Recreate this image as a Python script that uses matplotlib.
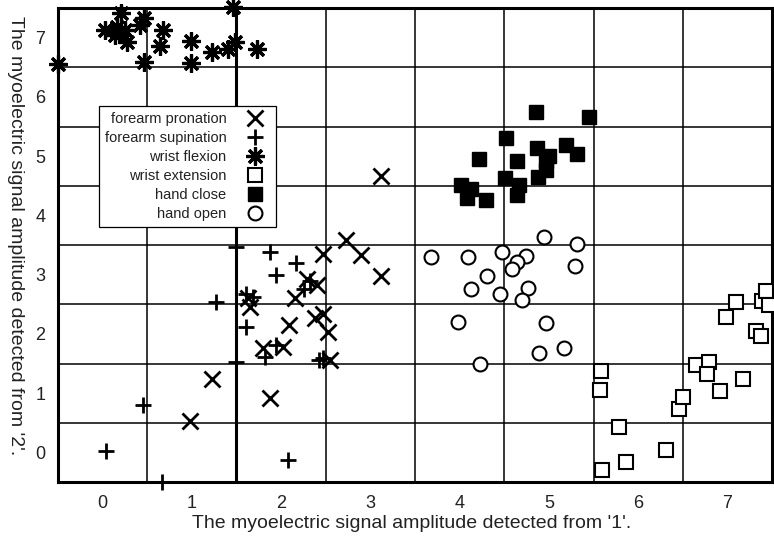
import numpy as np
import matplotlib
matplotlib.use('Agg')
import matplotlib.pyplot as plt

plt.rcParams['font.family'] = ['Liberation Sans', 'DejaVu Sans']

# values
pron_x = [0.98, 1.23, 1.87, 1.63, 1.65, 1.80, 2.02, 2.09, 2.16, 2.29, 2.40, 2.47, 2.38, 2.47, 2.53, 2.55, 2.73, 2.89, 3.12, 3.12]
pron_y = [0.53, 1.24, 0.91, 2.60, 2.46, 1.76, 1.78, 2.15, 2.60, 2.93, 2.82, 3.34, 2.27, 2.33, 2.04, 1.56, 3.59, 3.33, 2.97, 4.66]

sup_x = [0.04, 0.45, 0.66, 1.27, 1.49, 1.49, 1.61, 1.68, 1.61, 1.87, 1.94, 1.82, 1.94, 2.08, 2.17, 2.26, 2.32, 2.42, 2.47]
sup_y = [0.02, 0.80, -0.50, 2.54, 3.46, 1.52, 2.68, 2.62, 2.12, 3.39, 2.99, 1.61, 1.81, -0.13, 3.19, 2.75, 2.90, 1.56, 1.60]

flex_x = [-0.50, 0.21, 0.03, 0.16, 0.25, 0.14, 0.27, 0.19, 0.46, 0.42, 0.46, 0.68, 0.64, 0.99, 0.99, 1.23, 1.41, 1.48, 1.46, 1.73]
flex_y = [6.55, 7.42, 7.13, 7.18, 7.13, 7.04, 6.93, 7.10, 7.33, 7.21, 6.59, 7.13, 6.86, 6.95, 6.58, 6.76, 6.80, 6.93, 7.52, 6.80]

ext_x = [5.58, 5.57, 5.79, 5.59, 5.86, 6.31, 6.46, 6.50, 6.65, 6.79, 6.77, 6.92, 7.17, 6.98, 7.10, 7.32, 7.38, 7.39, 7.43, 7.47]
ext_y = [1.37, 1.06, 0.42, -0.30, -0.16, 0.04, 0.73, 0.94, 1.47, 1.53, 1.33, 1.04, 1.24, 2.28, 2.53, 2.05, 1.96, 2.55, 2.73, 2.49]

close_x = [4.86, 5.45, 4.52, 4.22, 4.64, 4.87, 4.97, 5.00, 5.19, 5.32, 4.97, 4.88, 4.51, 4.66, 4.01, 4.13, 4.08, 4.29, 4.64]
close_y = [5.75, 5.66, 5.31, 4.95, 4.91, 5.13, 4.91, 5.00, 5.18, 5.04, 4.77, 4.65, 4.63, 4.52, 4.51, 4.45, 4.29, 4.26, 4.34]

open_x = [4.94, 5.31, 3.68, 4.09, 4.48, 4.74, 4.64, 4.59, 5.29, 4.31, 4.13, 4.45, 4.77, 4.70, 3.98, 4.97, 4.89, 5.17, 4.23]
open_y = [3.64, 3.52, 3.30, 3.29, 3.38, 3.31, 3.21, 3.09, 3.15, 2.98, 2.75, 2.67, 2.77, 2.57, 2.20, 2.18, 1.68, 1.77, 1.49]

labels = ['forearm pronation', 'forearm supination', 'wrist flexion',
          'wrist extension', 'hand close', 'hand open']
xticks = [0, 1, 2, 3, 4, 5, 6, 7]
yticks = [0, 1, 2, 3, 4, 5, 6, 7]

fig = plt.figure(figsize=(7.74, 5.38), dpi=100)
ax = fig.add_axes([58 / 774, 56 / 538, 714 / 774, 474 / 538])

ax.set_xlim(-0.5, 7.5)
ax.set_ylim(-0.5, 7.5)
ax.set_xticks(xticks)
ax.set_yticks(yticks)
ax.set_xticks(np.arange(-0.5, 7.6, 1), minor=True)
ax.set_yticks(np.arange(-0.5, 7.6, 1), minor=True)
ax.grid(which='minor', color='black', lw=1.1)
ax.grid(which='major', visible=False)
ax.axvline(1.5, color='black', lw=2.2, zorder=1)
ax.set_axisbelow(True)
ax.tick_params(which='both', length=0)
ax.tick_params(axis='x', pad=9, labelsize=13, labelcolor='#222222')
ax.tick_params(axis='y', pad=9, labelsize=13, labelcolor='#222222')
for s in ax.spines.values():
    s.set_linewidth(2.2)

k = dict(ls='none', color='black', clip_on=False, zorder=3)
h1, = ax.plot(pron_x, pron_y, marker='x', ms=11, mew=2, label=labels[0], **k)
h2, = ax.plot(sup_x, sup_y, marker='+', ms=12, mew=2, label=labels[1], **k)
h3, = ax.plot(flex_x, flex_y, marker=(8, 2, 0), ms=13, mew=2.3, label=labels[2], **k)
h4, = ax.plot(ext_x, ext_y, marker='s', ms=10, mew=1.5, mfc='white', label=labels[3], **k)
h5, = ax.plot(close_x, close_y, marker='s', ms=10, mew=1, mfc='black', label=labels[4], **k)
h6, = ax.plot(open_x, open_y, marker='o', ms=10, mew=1.5, mfc='white', label=labels[5], **k)

leg = ax.legend(handles=[h1, h2, h3, h4, h5, h6], loc='upper left',
                bbox_to_anchor=(0.0574, 0.793), borderaxespad=0, markerfirst=False,
                fancybox=False, framealpha=1, edgecolor='black', fontsize=10.5,
                handlelength=2.1, handletextpad=0.9, labelspacing=0.34,
                borderpad=0.4)
leg.get_frame().set_linewidth(0.9)
leg.set_zorder(5)
for t in leg.get_texts():
    t.set_color('#222222')

ax.set_xlabel("The myoelectric signal amplitude detected from '1'.", fontsize=14,
              color='#222222', va='center')
ax.xaxis.set_label_coords(0.495, -0.087)
ax.set_ylabel("The myoelectric signal amplitude detected from '2'.", fontsize=14,
              color='#222222', rotation=270, va='center', ha='center')
ax.yaxis.set_label_coords(-0.06, 0.52)

fig.savefig('out.png', dpi=100)
